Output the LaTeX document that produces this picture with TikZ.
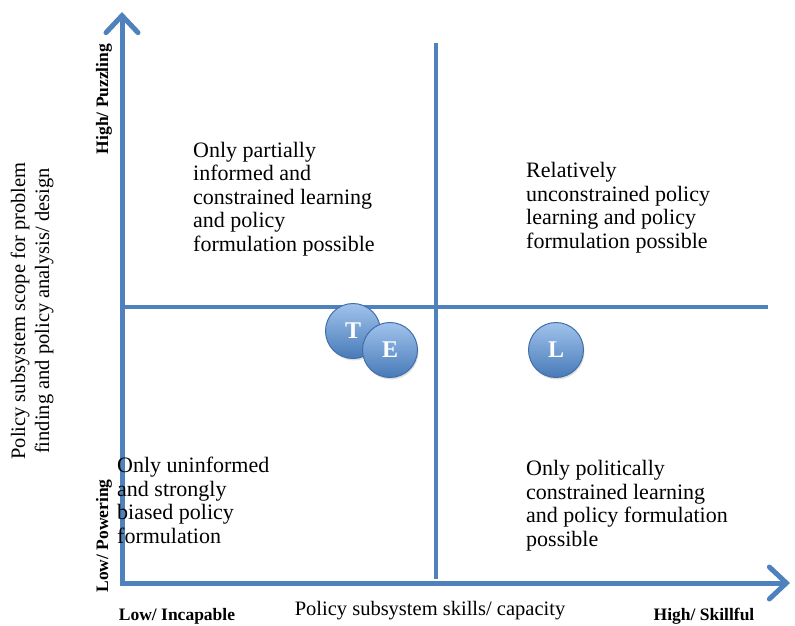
\documentclass[tikz,border=0pt]{standalone}
\usepackage{fontspec}
\setmainfont{Liberation Serif}
\usetikzlibrary{arrows.meta,shadows}

\definecolor{axisblue}{RGB}{79,129,189}
\definecolor{ballhi}{RGB}{160,195,236}
\definecolor{balllo}{RGB}{72,122,184}
\definecolor{balledge}{RGB}{66,110,168}

\tikzset{
	axis/.style={line width=5pt, axisblue, -{Straight Barb[length=17pt,width=32pt,line cap=round]}},
	divider/.style={line width=3.5pt, axisblue},
	quadtext/.style={anchor=base west, align=left, inner sep=0pt, font=\fontsize{22}{23.4}\selectfont},
	endlabel/.style={inner sep=0pt, font=\fontsize{17.5}{20}\selectfont\bfseries},
	titlelabel/.style={inner sep=0pt, align=center, font=\fontsize{20.5}{24}\selectfont},
	ball/.style={circle, minimum size=55pt, inner sep=0pt, draw=balledge, line width=1pt,
		top color=ballhi, bottom color=balllo, text=white, font=\fontsize{24}{26}\selectfont\bfseries,
		drop shadow={opacity=0.25, shadow xshift=1pt, shadow yshift=-2pt}}
}

\begin{document}
\begin{tikzpicture}[x=1pt,y=-1pt]
			\useasboundingbox (0,0) rectangle (795,625);
			\coordinate (origin) at (122,583);
			\coordinate (ytip) at (122,12);
			\coordinate (xtip) at (790,583);
			\coordinate (vtop) at (436,43);
			\coordinate (vbot) at (436,579);
			\coordinate (hleft) at (122,307);
			\coordinate (hright) at (768,307);
			
			% quadrant lines
			\draw[divider] (vtop) -- (vbot);
			\draw[divider] (hleft) -- (hright);
			
			% axes
			\draw[axis] ([yshift=2.5pt]origin) -- (ytip);
			\draw[axis] ([xshift=-2.5pt]origin) -- (xtip);
			
			% quadrant texts (anchored on the baseline of the last line)
			\node[quadtext] (tl) at (193,251) {Only partially\\informed and\\constrained learning\\and policy\\formulation possible};
			\node[quadtext] (tr) at (526,248) {Relatively\\unconstrained policy\\learning and policy\\formulation possible};
			\node[quadtext] (bl) at (117,543) {Only uninformed\\and strongly\\biased policy\\formulation};
			\node[quadtext] (br) at (526,546) {Only politically\\constrained learning\\and policy formulation\\possible};
			
			% axis labels
			\node[endlabel, rotate=90] (yhigh) at (104,99) {High/ Puzzling};
			\node[endlabel, rotate=90] (ylow) at (104,536) {Low/ Powering};
			\node[endlabel] (xlow) at (177,616) {Low/ Incapable};
			\node[endlabel] (xhigh) at (704,616) {High/ Skillful};
			\node[titlelabel] (xtitle) at (430,611) {Policy subsystem skills/ capacity};
			\node[titlelabel, rotate=90] (ytitle) at (32,311) {Policy subsystem scope for problem\\finding and policy analysis/ design};
			
			% positions
			\node[ball] (t) at (353,331) {T};
			\node[ball] (e) at (390,350) {E};
			\node[ball] (l) at (556,350) {L};
		
		\end{tikzpicture}
\end{document}
